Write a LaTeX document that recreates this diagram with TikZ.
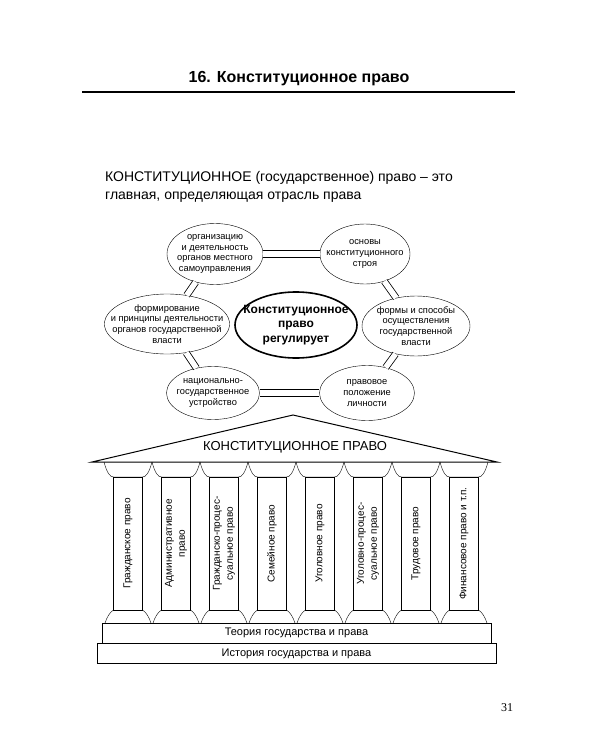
\documentclass[tikz,border=0pt]{standalone}
\usepackage{fontspec}
\setmainfont{Liberation Sans}
\newfontfamily\numfont{Liberation Serif}
\usetikzlibrary{positioning, shapes.geometric}
\tikzset{topic/.style={draw, ellipse, align=center, inner xsep=-12pt, inner ysep=0pt, font=\fontsize{9.3}{10.8}\selectfont}}
\tikzset{link/.style={double, double distance=5.5pt, line width=0.8pt}}

\begin{document}
\begin{tikzpicture}
    [x=1pt, y=-1pt,
      pillar/.style={draw, rotate=90, minimum width=133pt, minimum height=29pt, inner sep=0pt, align=center, font=\fontsize{10}{13}\selectfont},
      slab/.style={draw, minimum height=20pt, inner sep=0pt, font=\fontsize{11}{13}\selectfont}]

    \useasboundingbox (0,0) rectangle (600,750);

    \node[font=\fontsize{16}{18}\selectfont\bfseries] (T) at (299,79) {16. Конституционное право};
    \draw[line width=1.6pt] (82,92) -- (515,92);

    \node[anchor=north west, align=left, inner sep=0pt, font=\fontsize{14}{18}\selectfont]
    (D) at (105,171) {КОНСТИТУЦИОННОЕ (государственное) право – это\\главная, определяющая отрасль права};

    % what the branch regulates
    \node[topic, minimum width=122pt, minimum height=66pt, line width=1.6pt, font=\fontsize{12}{14.5}\selectfont\bfseries]
    (R) at (296,325) {Конституционное\\право\\регулирует};

    \node[topic, minimum width=96pt, minimum height=61pt] (MS) at (215,254) {организацию\\и деятельность\\органов местного\\самоуправления};
    \node[topic, minimum width=90pt, minimum height=60pt] (OS) at (365,254) {основы\\конституционного\\строя};
    \node[topic, minimum width=120pt, minimum height=60pt] (FP) at (167,324) {формирование\\и принципы деятельности\\органов государственной\\власти};
    \node[topic, minimum width=108pt, minimum height=60pt] (FS) at (416,326) {формы и способы\\осуществления\\государственной\\власти};
    \node[topic, minimum width=93pt, minimum height=53pt] (NG) at (213,393) {национально-\\государственное\\устройство};
    \node[topic, minimum width=95pt, minimum height=55pt] (PL) at (367,393) {правовое\\положение\\личности};

    \draw[link] (MS) -- (OS);
    \draw[link] (MS) -- (FP);
    \draw[link] (OS) -- (FS);
    \draw[link] (FP) -- (NG);
    \draw[link] (FS) -- (PL);
    \draw[link] (NG) -- (PL);

    % temple
    \draw[line width=1pt] (92,462) -- (293,415) -- (497,462) -- cycle;
    \node[font=\fontsize{13}{15}\selectfont] (KP) at (295,447) {КОНСТИТУЦИОННОЕ ПРАВО};

    \foreach \txt [count=\i, evaluate=\i as \c using 80+48*\i] in
      {Гражданское право, Административное\\право, Гражданско-процес-\\суальное право, Семейное право,
       Уголовное право, Уголовно-процес-\\суальное право, Трудовое право, Финансовое право и т.п.} {
      \node[pillar] (P\i) at (\c,543.5) {\txt};
      \draw (\c-24,462) .. controls (\c-21,473) and (\c-18,477) .. (\c-14.5,477)
        -- (\c+14.5,477) .. controls (\c+18,477) and (\c+21,473) .. (\c+24,462);
      \draw (\c-14.5,610) .. controls (\c-18,612) and (\c-21,617) .. (\c-23,623);
      \draw (\c+14.5,610) .. controls (\c+18,612) and (\c+21,617) .. (\c+23,623);
    }

    \node[slab, minimum width=389pt] (TG) at (296.5,633) {Теория государства и права};
    \node[slab, minimum width=399pt, below=0pt of TG] (IG) {История государства и права};

    \node[font=\numfont\fontsize{12}{14}\selectfont] (N) at (507,708) {31};
  \end{tikzpicture}
\end{document}
